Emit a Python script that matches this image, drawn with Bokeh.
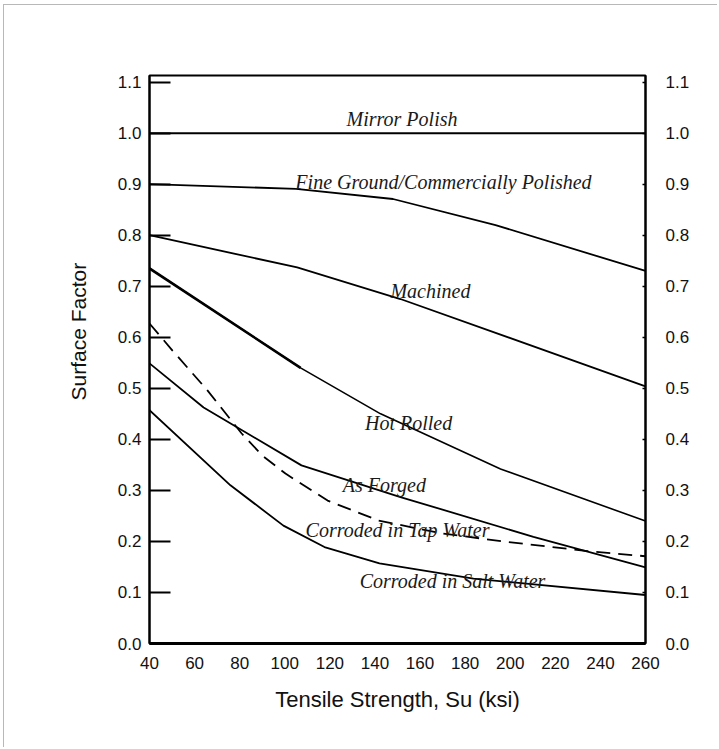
from bokeh.plotting import figure
from bokeh.models import FixedTicker, PrintfTickFormatter, LinearAxis, Range1d, ColumnDataSource, Title
from bokeh.embed import file_html
from bokeh.resources import INLINE
from bokeh.core.properties import value

# ---- data (tensile strength in ksi, surface factor) ----
mirror_x = [40, 260]
mirror_y = [1.0, 1.0]

fine_x = [40, 105, 148, 193.5, 260]
fine_y = [0.900, 0.891, 0.871, 0.820, 0.730]

machined_x = [40, 105.5, 151.3, 260]
machined_y = [0.800, 0.737, 0.675, 0.504]

hot_x = [40, 107, 142.5, 195.7, 260]
hot_y = [0.735, 0.540, 0.450, 0.342, 0.240]

forged_x = [40, 64, 107.4, 151.3, 210.3, 260]
forged_y = [0.549, 0.4625, 0.349, 0.287, 0.209, 0.149]

tap_x = [40, 50.2, 65.7, 80.8, 90.1, 100.3, 119, 141.6, 169.1, 198.8, 234.3, 260]
tap_y = [0.627, 0.574, 0.496, 0.412, 0.368, 0.333, 0.280, 0.241, 0.216, 0.199, 0.181, 0.171]

salt_x = [40, 75.9, 99.4, 117.6, 142, 183.7, 260]
salt_y = [0.457, 0.310, 0.231, 0.189, 0.157, 0.127, 0.095]

label_text = ["Mirror Polish", "Fine Ground/Commercially Polished", "Machined",
              "Hot Rolled", "As Forged", "Corroded in Tap Water", "Corroded in Salt Water"]
label_x = [152, 170.4, 164.6, 154.9, 144.2, 150, 174.4]
label_y = [1.027, 0.905, 0.690, 0.433, 0.310, 0.223, 0.1215]

x_ticks = [40, 60, 80, 100, 120, 140, 160, 180, 200, 220, 240, 260]
y_ticks = [0.0, 0.1, 0.2, 0.3, 0.4, 0.5, 0.6, 0.7, 0.8, 0.9, 1.0, 1.1]

x_title = "Tensile Strength, Su (ksi)"
y_title = "Surface Factor"

# ---- figure ----
p = figure(width=714, height=743,
           x_range=Range1d(40, 260), y_range=Range1d(0, 1.113),
           output_backend="svg", toolbar_location=None,
           min_border_left=145, min_border_right=73,
           min_border_top=70, min_border_bottom=105,
           x_axis_label=x_title)
p.styles = {"border-top": "1px solid #b8b8b8", "border-left": "1px solid #b8b8b8",
            "margin-left": "3px", "margin-top": "4px"}
p.xgrid.visible = False
p.ygrid.visible = False
p.outline_line_color = "black"
p.outline_line_width = 2
p.background_fill_color = "white"
p.border_fill_color = "white"

ax_font = "Liberation Sans"

xa = p.xaxis[0]
xa.ticker = FixedTicker(ticks=x_ticks)
xa.major_tick_line_color = None
xa.minor_tick_line_color = None
xa.axis_line_color = "black"
xa.axis_line_width = 3
xa.major_label_standoff = 7
xa.major_label_text_font = ax_font
xa.major_label_text_font_size = "17px"
xa.major_label_text_color = "#111111"
xa.axis_label_text_font = ax_font
xa.axis_label_text_font_size = "22px"
xa.axis_label_text_font_style = "normal"
xa.axis_label_text_color = "#111111"
xa.axis_label_standoff = 15

ya = p.yaxis[0]
ya.ticker = FixedTicker(ticks=y_ticks)
ya.formatter = PrintfTickFormatter(format="%.1f")
ya.major_tick_in = 21
ya.major_tick_out = 0
ya.major_tick_line_width = 2
ya.minor_tick_line_color = None
ya.axis_line_width = 2
ya.major_label_standoff = 8
ya.major_label_text_font = ax_font
ya.major_label_text_font_size = "17px"
ya.major_label_text_color = "#111111"

ra = LinearAxis(ticker=FixedTicker(ticks=y_ticks), formatter=PrintfTickFormatter(format="%.1f"))
ra.major_tick_in = 3
ra.major_tick_out = 0
ra.major_tick_line_width = 1.5
ra.minor_tick_line_color = None
ra.axis_line_width = 2
ra.major_label_standoff = 20
ra.major_label_text_font = ax_font
ra.major_label_text_font_size = "17px"
ra.major_label_text_color = "#111111"
p.add_layout(ra, "right")

# y-axis title as a side title (sits a little above the frame centre, as in the original)
p.add_layout(Title(text=y_title, align="left", offset=243, vertical_align="bottom",
                   standoff=50, text_font=ax_font, text_font_size="21px",
                   text_font_style="normal", text_color="#111111"), "left")

# ---- curves ----
lw = 1.8
p.line(mirror_x, mirror_y, line_color="black", line_width=2)
p.line(fine_x, fine_y, line_color="black", line_width=lw)
p.line(machined_x, machined_y, line_color="black", line_width=lw)
p.line(hot_x, hot_y, line_color="black", line_width=1.6)
p.line(hot_x[:2], hot_y[:2], line_color="black", line_width=2.6)
p.line(forged_x, forged_y, line_color="black", line_width=lw)
p.line(salt_x, salt_y, line_color="black", line_width=lw)
p.line(tap_x, tap_y, line_color="black", line_width=lw, line_dash="14 8")

src = ColumnDataSource(dict(x=label_x, y=label_y, t=label_text))
p.text(x="x", y="y", text="t", source=src,
       text_font=value("Liberation Serif"), text_font_style="italic",
       text_font_size="20px", text_align="center", text_baseline="middle",
       text_color="#1a1a1a")

open("out.html", "w").write(file_html(p, INLINE))
